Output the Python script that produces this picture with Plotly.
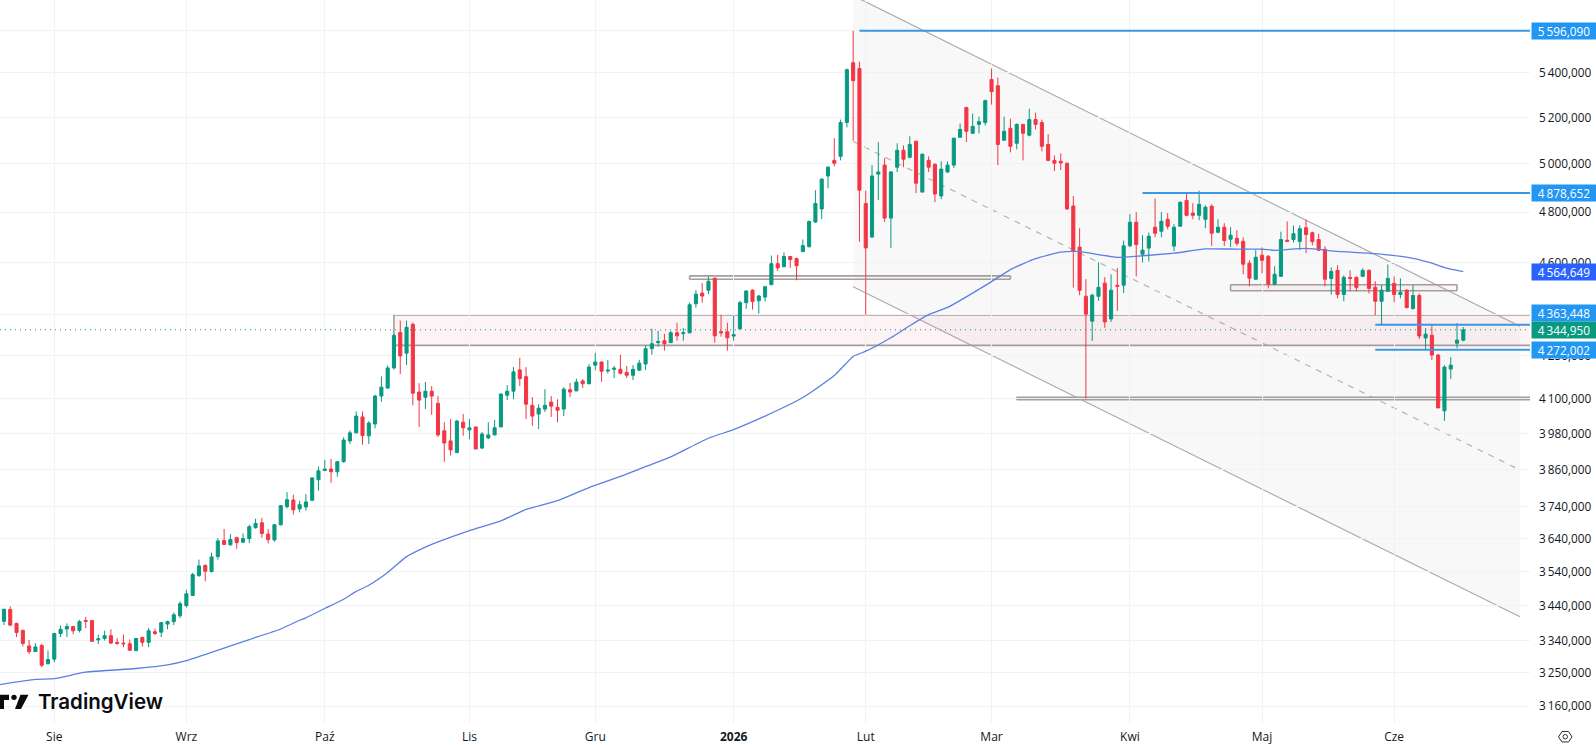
import math
import plotly.graph_objects as go

# Daily gold candles; bar_index is the trading-day position on the time axis.
opens = [
    3344,3395,3429,3389,3369,3325,3309,3326,3275,3288,
    3360,3373,3380,3369,3397,3397,3342,3346,3354,3335,
    3333,3331,3312,3349,3335,3365,3364,3387,3394,3411,
    3440,3470,3529,3559,3541,3586,3635,3622,3644,3630,
    3641,3675,3690,3655,3637,3684,3741,3762,3734,3740,
    3761,3827,3857,3862,3853,3886,3955,3982,4036,3972,
    4012,4108,4136,4207,4335,4260,4365,4122,4104,4125,
    4083,3989,3955,3916,4018,3992,4002,3931,3965,3975,
    4002,4111,4125,4200,4176,4076,4046,4063,4087,4069,
    4063,4130,4126,4161,4151,4217,4228,4196,4202,4202,
    4191,4181,4199,4221,4276,4298,4305,4298,4334,4331,
    4334,4442,4482,4493,4539,4338,4338,4322,4349,4446,
    4493,4453,4467,4514,4595,4583,4623,4615,4642,4662,
    4760,4813,4949,5015,5032,5178,5447,5420,4835,4700,
    4957,4995,4776,4986,5058,5028,5097,4882,5015,4998,
    4866,4966,4995,5114,5244,5131,5170,5178,5370,5342,
    5101,5153,5088,5170,5123,5191,5178,5083,5015,5011,
    5003,4825,4660,4470,4377,4470,4520,4385,4512,4512,
    4665,4759,4632,4656,4739,4723,4771,4664,4743,4848,
    4796,4787,4771,4824,4719,4739,4691,4695,4683,4597,
    4535,4628,4624,4516,4546,4687,4690,4682,4737,4717,
    4690,4651,4538,4569,4477,4542,4542,4546,4569,4504,
    4451,4489,4519,4477,4493,4424,4473,4315,4325,4253,
    4057,4203,4296,4307,
]
highs = [
    3395,3430,3438,3391,3371,3342,3333,3331,3312,3362,
    3383,3389,3382,3399,3408,3399,3357,3368,3372,3347,
    3357,3343,3348,3351,3376,3374,3393,3397,3420,3453,
    3487,3537,3577,3563,3598,3643,3671,3655,3647,3657,
    3684,3703,3706,3671,3686,3746,3787,3779,3760,3781,
    3835,3870,3892,3895,3888,3967,3990,4055,4055,4022,
    4113,4177,4216,4331,4379,4379,4372,4153,4157,4143,
    4108,4018,4029,4026,4046,4029,4002,3985,4018,4026,
    4117,4146,4210,4243,4210,4104,4080,4132,4108,4097,
    4139,4154,4169,4167,4220,4261,4231,4236,4214,4254,
    4214,4217,4236,4287,4349,4341,4330,4341,4371,4352,
    4446,4493,4520,4546,4541,4401,4371,4397,4453,4493,
    4497,4475,4510,4627,4630,4639,4623,4619,4690,4766,
    4890,4939,4990,5110,5191,5420,5596,5452,4888,4995,
    5093,5024,4970,5088,5079,5118,5097,5045,5032,5003,
    5011,5011,5112,5174,5248,5218,5204,5279,5420,5379,
    5204,5195,5174,5170,5239,5222,5191,5127,5036,5045,
    5005,4866,4735,4535,4480,4600,4543,4554,4578,4686,
    4792,4800,4707,4718,4856,4800,4796,4751,4844,4879,
    4836,4888,4828,4832,4771,4755,4739,4727,4699,4608,
    4648,4659,4628,4585,4721,4762,4746,4746,4770,4721,
    4713,4663,4581,4589,4550,4569,4546,4577,4573,4527,
    4512,4592,4546,4538,4497,4512,4481,4351,4363,4257,
    4217,4246,4370,4355,
]
lows = [
    3335,3384,3381,3350,3324,3302,3308,3266,3275,3279,
    3350,3350,3358,3363,3375,3337,3330,3340,3330,3328,
    3321,3312,3310,3323,3321,3356,3350,3372,3384,3404,
    3435,3469,3525,3512,3538,3577,3622,3620,3610,3628,
    3627,3672,3644,3626,3632,3682,3735,3716,3723,3728,
    3759,3792,3857,3817,3837,3883,3945,3981,3942,3945,
    3997,4088,4133,4201,4185,4217,4076,4002,4063,4043,
    3968,3886,3906,3916,3972,3961,3928,3928,3961,3975,
    4002,4094,4097,4143,4029,4006,3995,4053,4036,4018,
    4039,4105,4126,4136,4149,4199,4158,4187,4171,4184,
    4171,4164,4196,4199,4254,4283,4269,4298,4305,4305,
    4332,4427,4446,4478,4298,4320,4269,4305,4345,4423,
    4420,4405,4450,4514,4567,4583,4579,4531,4642,4658,
    4756,4772,4898,4990,5015,5157,5099,4681,4400,4697,
    4849,4760,4657,4966,4986,5024,4878,4882,4966,4841,
    4853,4962,4983,5112,5093,5131,5131,5165,5257,4995,
    5101,5049,5062,5015,5118,5148,5054,5011,4970,4974,
    4809,4503,4474,4099,4304,4453,4352,4374,4415,4482,
    4660,4546,4600,4604,4699,4699,4731,4644,4743,4783,
    4771,4767,4735,4665,4715,4664,4660,4665,4554,4508,
    4533,4558,4500,4512,4546,4683,4678,4648,4636,4667,
    4644,4508,4477,4462,4451,4489,4489,4546,4481,4399,
    4363,4487,4448,4462,4424,4420,4311,4272,4235,4067,
    4023,4168,4278,4303,
]
closes = [
    3391,3430,3384,3363,3332,3309,3322,3271,3287,3360,
    3372,3380,3368,3394,3395,3338,3345,3354,3333,3332,
    3331,3313,3346,3335,3368,3360,3391,3394,3414,3446,
    3475,3532,3558,3542,3585,3634,3623,3638,3629,3641,
    3678,3688,3657,3638,3684,3744,3763,3731,3747,3756,
    3833,3856,3862,3853,3886,3958,3982,4039,3973,4015,
    4108,4139,4207,4324,4250,4354,4118,4094,4125,4108,
    3975,3948,3925,4022,3999,3999,3928,3978,3975,3999,
    4115,4125,4193,4169,4080,4039,4066,4076,4073,4059,
    4132,4122,4157,4151,4210,4228,4195,4199,4206,4188,
    4181,4202,4224,4276,4294,4302,4294,4334,4323,4334,
    4438,4478,4471,4527,4323,4334,4316,4327,4446,4490,
    4450,4471,4506,4595,4579,4623,4611,4587,4666,4762,
    4835,4936,4986,5003,5178,5415,5365,4890,4657,4949,
    4966,4776,4966,5058,5020,5083,4919,5041,4986,4874,
    4978,4995,5110,5148,5140,5161,5182,5275,5315,5083,
    5140,5075,5170,5131,5191,5170,5075,5015,5003,5004,
    4813,4645,4493,4403,4474,4504,4374,4493,4508,4665,
    4759,4670,4648,4703,4715,4763,4743,4739,4840,4787,
    4787,4832,4820,4715,4739,4686,4707,4675,4593,4539,
    4620,4608,4516,4554,4690,4683,4713,4733,4710,4682,
    4648,4535,4565,4477,4542,4538,4504,4569,4500,4451,
    4493,4538,4477,4485,4428,4473,4322,4329,4253,4067,
    4210,4217,4307,4344.95,
]
bar_index = list(range(len(closes)))

# Moving average, sampled along the line.
ma_index = [0,6,9,14,22,27,30,34,40,45,48,49,52,55,57,59,62,65,68,70,75,80,84,89,94,99,
            102,107,113,117,122,128,133,136,138,142,145,148,151,158,161,165,169,172,178,
            182,187,192,197,201,203,208,213,219,225,228,230,233]
ma_values = [3217,3232,3234,3252,3262,3272,3284,3307,3343,3373,3398,3405,3432,3459,3482,3500,
             3538,3586,3615,3631,3666,3696,3732,3760,3802,3838,3862,3902,3964,3993,4039,4103,
             4180,4248,4267,4316,4360,4401,4428,4526,4572,4615,4640,4642,4620,4626,4636,4653,
             4652,4652,4647,4655,4643,4634,4616,4597,4580,4564.649]

# Time axis labels and their bars.
month_index = [9,30,52,75,95,117,138,158,180,201,222]
month_labels = ["Sie","Wrz","Paź","Lis","Gru","<b>2026</b>","Lut","Mar","Kwi","Maj","Cze"]

# Price axis ticks.
price_ticks = [3160,3250,3340,3440,3540,3640,3740,3860,3980,4100,4250,4400,4600,4800,5000,5200,5400,5600]

# Horizontal levels: (start bar, price).
level_high = (137, 5596.09)
level_mid = (182, 4878.652)
level_upper = (219, 4363.448)
level_lower = (219, 4272.002)
last_price = 4344.95
ma_last = 4564.649

# Falling channel: start and end bar, price at each end for the three rails.
channel_bars = (136, 242)
channel_top = (5765, 4358)
channel_mid = (5096, 3859)
channel_bottom = (4506, 3408)

# Supply/demand zones: (start bar, end bar or None for open-ended, top price, bottom price).
zones = [
    (63, None, 4400, 4288, "rgba(242,54,69,0.06)"),
    (110, 161, 4548, 4535, "rgba(242,54,69,0.03)"),
    (196, 232, 4514, 4491, "rgba(242,54,69,0.05)"),
    (162, None, 4104, 4095, "rgba(242,54,69,0.03)"),
]

GREEN = "#089981"
RED = "#F23645"
BLUE = "#2196F3"
MA_BLUE = "#5B80E2"
GRID = "#F1F2F4"
ZONE_LINE = "#A39D9D"
TEXT = "#131722"
FONT = "Open Sans, Noto Sans, sans-serif"

W, H = 1596, 745
PLOT_R, PLOT_B = 66, 20
PLOT_W, PLOT_H = W - PLOT_R, H - PLOT_B
X_MIN, X_MAX = 0.37, 243.6
Y_MIN, Y_MAX = 3115, 5744


def fmt_price(v):
    return f"{int(v)//1000}\u2009{int(v)%1000:03d},000"


def seg(x0, y0, x1, y1, color, width, dash="solid", layer="below"):
    return dict(type="line", xref="x", yref="y", x0=x0, y0=y0, x1=x1, y1=y1,
                layer=layer, line=dict(color=color, width=width, dash=dash))


shapes = []

# Channel body and rails
b0, b1 = channel_bars
shapes.append(dict(
    type="path", xref="x", yref="y", layer="below",
    path=f"M {b0} {channel_top[0]} L {b1} {channel_top[1]} L {b1} {channel_bottom[1]} L {b0} {channel_bottom[0]} Z",
    fillcolor="rgba(120,123,134,0.05)", line=dict(width=0),
))
shapes.append(seg(b0, channel_top[0], b1, channel_top[1], "#ABABAB", 1.2))
shapes.append(seg(b0, channel_bottom[0], b1, channel_bottom[1], "#ABABAB", 1.2))
shapes.append(seg(b0, channel_mid[0], b1, channel_mid[1], "#B4B4B4", 1.2, "6px,6px"))

# Zones
for start, end, top, bottom, fill in zones:
    x1 = X_MAX if end is None else end
    shapes.append(dict(type="rect", xref="x", yref="y", layer="below",
                       x0=start, x1=x1, y0=bottom, y1=top, fillcolor=fill, line=dict(width=0)))
    shapes.append(seg(start, top, x1, top, ZONE_LINE, 1.6))
    shapes.append(seg(start, bottom, x1, bottom, ZONE_LINE, 1.6))
    shapes.append(seg(start, top, start, bottom, ZONE_LINE, 1.6))
    if end is not None:
        shapes.append(seg(end, top, end, bottom, ZONE_LINE, 1.6))

# Horizontal levels
for start, price in (level_high, level_mid, level_upper, level_lower):
    shapes.append(seg(start, price, X_MAX, price, "#3A97E3", 2, layer="above"))

# Last-price line
shapes.append(seg(X_MIN, last_price, X_MAX, last_price, GREEN, 1, "1px,4px", layer="above"))


def paper(px, py):
    return f"{px / PLOT_W:.5f} {1 - py / PLOT_H:.5f}"


# Brand mark
mark = [
    [(0, 696.7), (9, 696.7), (9, 702), (4, 702), (4, 711), (0, 711)],
    [(15, 711), (20.5, 696.7), (28.5, 696.7), (21, 711)],
]
for poly in mark:
    d = "M " + " L ".join(paper(*p) for p in poly) + " Z"
    shapes.append(dict(type="path", xref="paper", yref="paper", layer="above", path=d,
                       fillcolor="#0B0B0F", line=dict(width=0)))
shapes.append(dict(type="circle", xref="paper", yref="paper", layer="above",
                   x0=11.3 / PLOT_W, x1=16.7 / PLOT_W, y0=1 - 702 / PLOT_H, y1=1 - 696.6 / PLOT_H,
                   fillcolor="#0B0B0F", line=dict(width=0)))

# Settings glyph under the price axis
hexagon = [(1558.5, 739), (1562, 733.5), (1568.5, 733.5), (1572, 739), (1568.5, 744), (1562, 744)]
shapes.append(dict(type="path", xref="paper", yref="paper", layer="above",
                   path="M " + " L ".join(paper(*p) for p in hexagon) + " Z",
                   line=dict(color="#2A2E39", width=1)))
shapes.append(dict(type="circle", xref="paper", yref="paper", layer="above",
                   x0=1563 / PLOT_W, x1=1567.5 / PLOT_W, y0=1 - 741 / PLOT_H, y1=1 - 736.5 / PLOT_H,
                   line=dict(color="#2A2E39", width=1)))

annotations = [dict(
    xref="paper", yref="paper", x=35.5 / PLOT_W, y=1 - 703 / PLOT_H, xanchor="left", yanchor="middle",
    text="TradingView", showarrow=False,
    font=dict(family="Inter, Roboto, sans-serif", size=20.5, weight=600, color="#0B0B0F"),
)]


def price_box(price, label, color, yshift=0):
    return dict(
        xref="paper", yref="y", x=1, y=math.log10(price), xanchor="left", yanchor="middle",
        xshift=1, yshift=yshift, width=64, height=16, borderpad=0, align="center",
        text=label, showarrow=False, bgcolor=color,
        font=dict(family=FONT, size=11.8, color="#FFFFFF"),
    )


annotations += [
    price_box(level_high[1], "5\u2009596,090", BLUE),
    price_box(level_mid[1], "4\u2009878,652", BLUE),
    price_box(ma_last, "4\u2009564,649", "#2962FF"),
    price_box(level_upper[1], "4\u2009363,448", BLUE, yshift=12),
    price_box(last_price, "4\u2009344,950", GREEN),
    price_box(level_lower[1], "4\u2009272,002", BLUE),
]

fig = go.Figure()
fig.add_trace(go.Candlestick(
    x=bar_index, open=opens, high=highs, low=lows, close=closes,
    increasing=dict(line=dict(color=GREEN, width=1), fillcolor=GREEN),
    decreasing=dict(line=dict(color=RED, width=1), fillcolor=RED),
    whiskerwidth=0, showlegend=False, hoverinfo="skip",
))
fig.add_trace(go.Scatter(
    x=ma_index, y=ma_values, mode="lines", showlegend=False, hoverinfo="skip",
    line=dict(color=MA_BLUE, width=1.3, shape="spline", smoothing=0.5),
))

fig.update_layout(
    width=W, height=H,
    margin=dict(l=0, r=PLOT_R, t=0, b=PLOT_B),
    paper_bgcolor="#FFFFFF", plot_bgcolor="#FFFFFF",
    boxgap=0.3,
    shapes=shapes, annotations=annotations,
    font=dict(family=FONT, size=12, color=TEXT),
    xaxis=dict(
        range=[X_MIN, X_MAX], rangeslider=dict(visible=False),
        tickmode="array", tickvals=month_index, ticktext=month_labels,
        showgrid=True, gridcolor=GRID, gridwidth=1, zeroline=False, showline=False,
        ticks="", ticklabelstandoff=5, tickfont=dict(family=FONT, size=12, color=TEXT),
    ),
    yaxis=dict(
        type="log", side="right", range=[math.log10(Y_MIN), math.log10(Y_MAX)],
        tickmode="array", tickvals=price_ticks, ticktext=[fmt_price(v) for v in price_ticks],
        showgrid=True, gridcolor=GRID, gridwidth=1, zeroline=False, showline=False,
        ticks="", ticklabelstandoff=8, tickfont=dict(family=FONT, size=11.8, color=TEXT),
    ),
)

fig.write_html("out.html", config=dict(displayModeBar=False, responsive=False))
